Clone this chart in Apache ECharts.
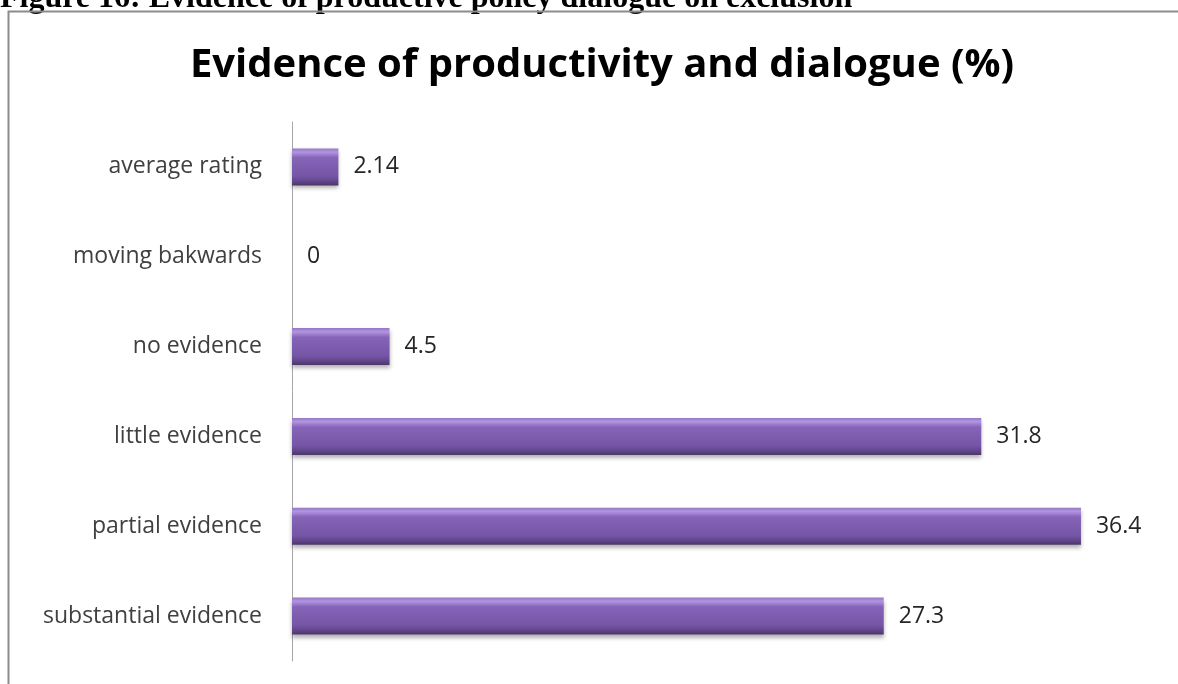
<!DOCTYPE html>
<html>
<head>
<meta charset="utf-8">
<script src="https://cdn.jsdelivr.net/npm/echarts@6/dist/echarts.min.js"></script>
<style>
  html, body { margin: 0; padding: 0; background: #fff; }
  #chart { width: 1178px; height: 684px; }
</style>
</head>
<body>
<div id="chart"></div>
<script>
  // categories top to bottom
  var categories = [
    'average rating',
    'moving bakwards',
    'no evidence',
    'little evidence',
    'partial evidence',
    'substantial evidence'
  ];
  var values = [2.14, 0, 4.5, 31.8, 36.4, 27.3];

  var chart = echarts.init(document.getElementById('chart'));

  var option = {
    animation: false,
    backgroundColor: '#fff',
    title: {
      text: 'Evidence of productivity and dialogue (%)',
      left: 597,
      textAlign: 'center',
      top: 41,
      textStyle: {
        fontFamily: 'Open Sans',
        fontWeight: 'bold',
        fontSize: 40,
        color: '#000'
      }
    },
    graphic: [
      {
        type: 'text',
        style: {
          x: 0,
          y: 15,
          verticalAlign: 'bottom',
          text: 'Figure 16: Evidence of productive policy dialogue on exclusion',
          font: 'bold 32px "Liberation Serif"',
          fill: '#000'
        }
      },
      {
        type: 'rect',
        shape: { x: 8.5, y: 11.5, width: 1200, height: 700 },
        style: { fill: 'none', stroke: '#8c8c8c', lineWidth: 2 },
        z: 10
      }
    ],
    grid: {
      left: 292,
      right: 19,
      top: 122,
      bottom: 23
    },
    xAxis: {
      type: 'value',
      min: 0,
      max: 40,
      show: false
    },
    yAxis: {
      type: 'category',
      inverse: true,
      data: categories,
      axisLine: { show: true, lineStyle: { color: '#a6a6a6', width: 1 } },
      axisTick: { show: false },
      axisLabel: {
        fontFamily: 'Open Sans',
        fontSize: 23,
        color: '#404040',
        margin: 30
      }
    },
    series: [
      {
        type: 'bar',
        data: values,
        barWidth: 37,
        itemStyle: {
          color: {
            type: 'linear',
            x: 0, y: 0, x2: 0, y2: 1,
            colorStops: [
              { offset: 0, color: '#9478c2' },
              { offset: 0.1, color: '#b195e2' },
              { offset: 0.25, color: '#8664b8' },
              { offset: 0.75, color: '#7555a6' },
              { offset: 0.9, color: '#5f4487' },
              { offset: 1, color: '#4b3668' }
            ]
          },
          shadowColor: 'rgba(0,0,0,0.3)',
          shadowBlur: 4,
          shadowOffsetY: 3
        },
        label: {
          show: true,
          position: 'right',
          distance: 15,
          fontFamily: 'Open Sans',
          fontSize: 23,
          color: '#262626'
        }
      }
    ]
  };

  chart.setOption(option);
</script>
</body>
</html>
